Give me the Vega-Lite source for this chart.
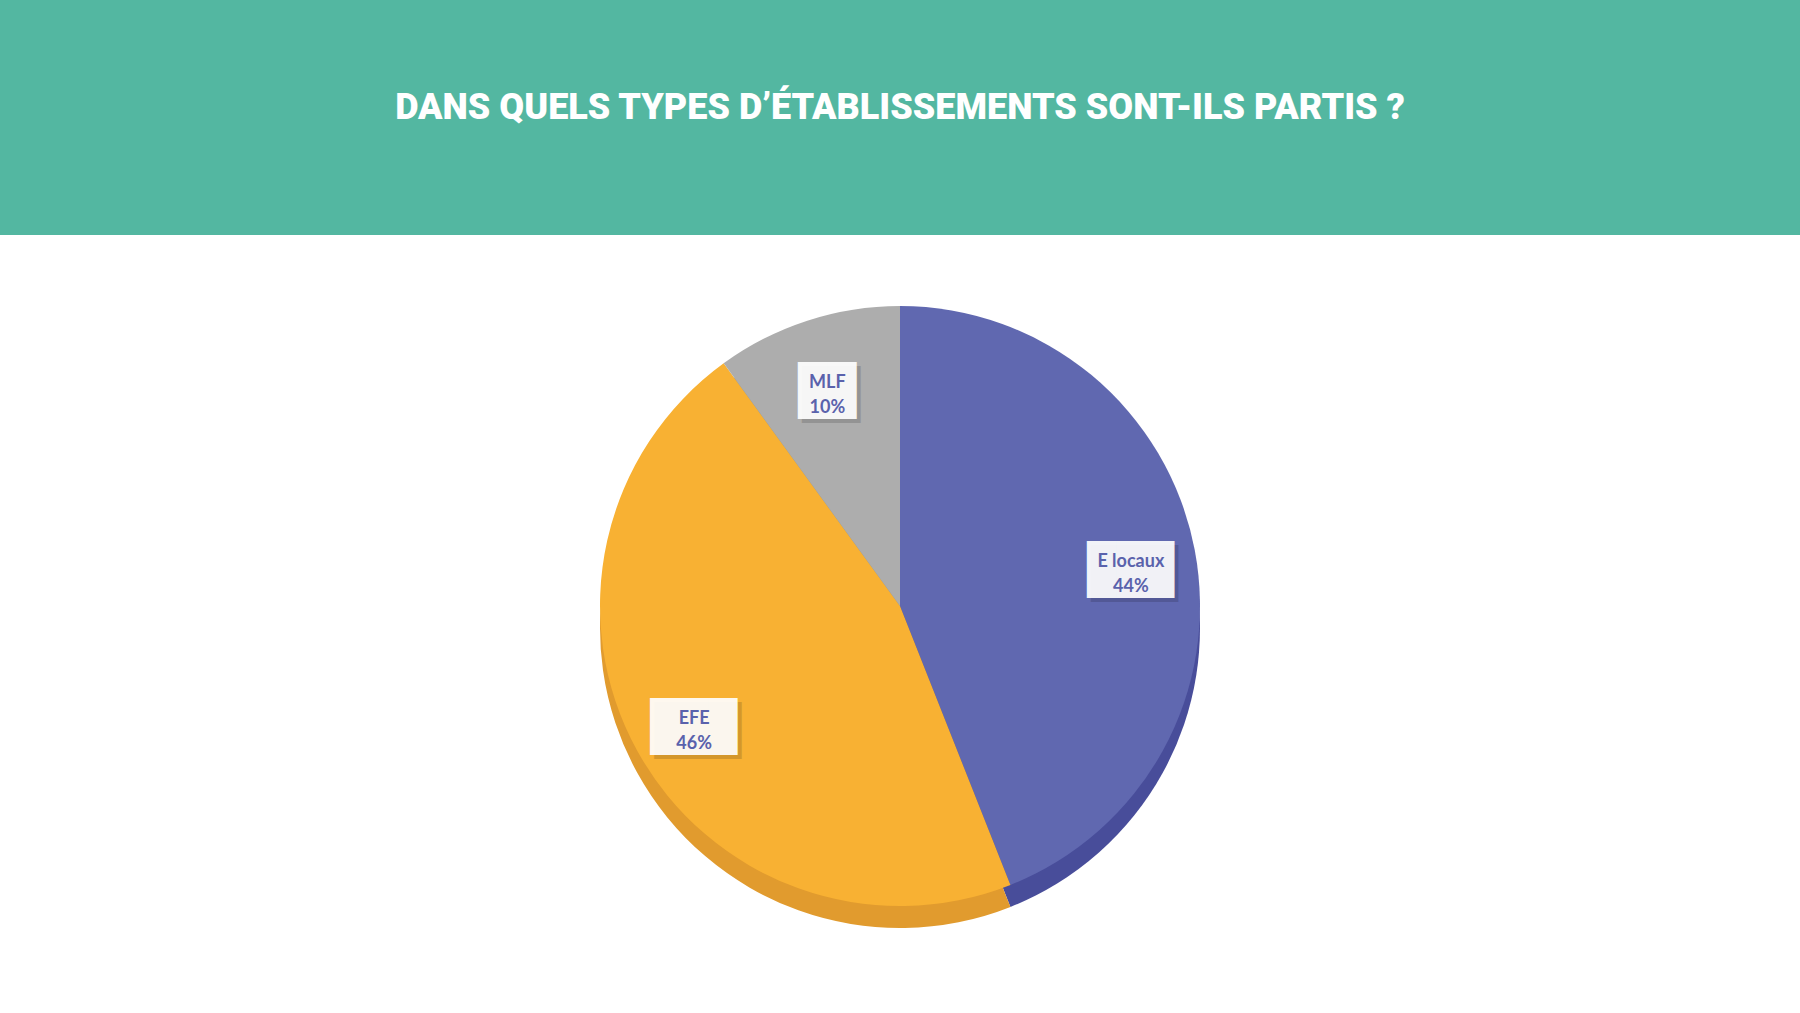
{
  "$schema": "https://vega.github.io/schema/vega-lite/v6.json",
  "padding": 0,
  "spacing": 0,
  "background": "white",
  "config": {"view": {"stroke": null}, "concat": {"spacing": 0}},
  "vconcat": [
    {
      "width": 1800,
      "height": 235,
      "view": {"fill": "#53B7A1", "stroke": null},
      "data": {"values": [{"heading": "DANS QUELS TYPES D’ÉTABLISSEMENTS SONT-ILS PARTIS ?"}]},
      "mark": {"type": "text", "font": "Roboto", "fontWeight": 900, "fontSize": 36, "color": "white", "baseline": "middle", "yOffset": -10},
      "encoding": {"text": {"field": "heading"}}
    },
    {
      "width": 1800,
      "height": 778,
      "data": {
        "values": [
          {"cat": "E locaux", "value": 44},
          {"cat": "EFE", "value": 46},
          {"cat": "MLF", "value": 10}
        ]
      },
      "transform": [
        {"calculate": "datum.cat + '\\n' + datum.value + '%'", "as": "label"},
        {"calculate": "datum.cat === 'MLF' ? '██' : '███'", "as": "box"}
      ],
      "encoding": {
        "theta": {"field": "value", "type": "quantitative", "stack": true},
        "order": {"field": "cat", "type": "ordinal"}
      },
      "layer": [
        {
          "mark": {"type": "arc", "radius": 300, "yOffset": 4},
          "encoding": {
            "color": {"field": "cat", "type": "nominal", "legend": null,
              "scale": {"domain": ["E locaux", "EFE", "MLF"], "range": ["#484D9A", "#E19B2E", "#8E8E8E"]}}
          }
        },
        {
          "mark": {"type": "arc", "radius": 300, "yOffset": -18},
          "encoding": {
            "color": {"field": "cat", "type": "nominal", "legend": null,
              "scale": {"domain": ["E locaux", "EFE", "MLF"], "range": ["#6068B0", "#F8B133", "#ADADAD"]}}
          }
        },
        {
          "mark": {"type": "text", "font": "DejaVu Sans Mono", "fontSize": 48, "radius": 235, "yOffset": -4, "xOffset": 4, "color": "#000000", "opacity": 0.14, "baseline": "middle"},
          "encoding": {"text": {"field": "box"}}
        },
        {
          "mark": {"type": "text", "font": "DejaVu Sans Mono", "fontSize": 48, "radius": 235, "yOffset": -8, "color": "#FFFFFF", "opacity": 0.92, "baseline": "middle"},
          "encoding": {"text": {"field": "box"}}
        },
        {
          "mark": {"type": "text", "font": "Lato", "fontWeight": "bold", "fontSize": 18, "lineHeight": 25, "lineBreak": "\n", "radius": 235, "yOffset": -18, "color": "#5A62AC", "baseline": "middle"},
          "encoding": {"text": {"field": "label"}}
        }
      ],
      "resolve": {"scale": {"color": "independent"}}
    }
  ]
}
